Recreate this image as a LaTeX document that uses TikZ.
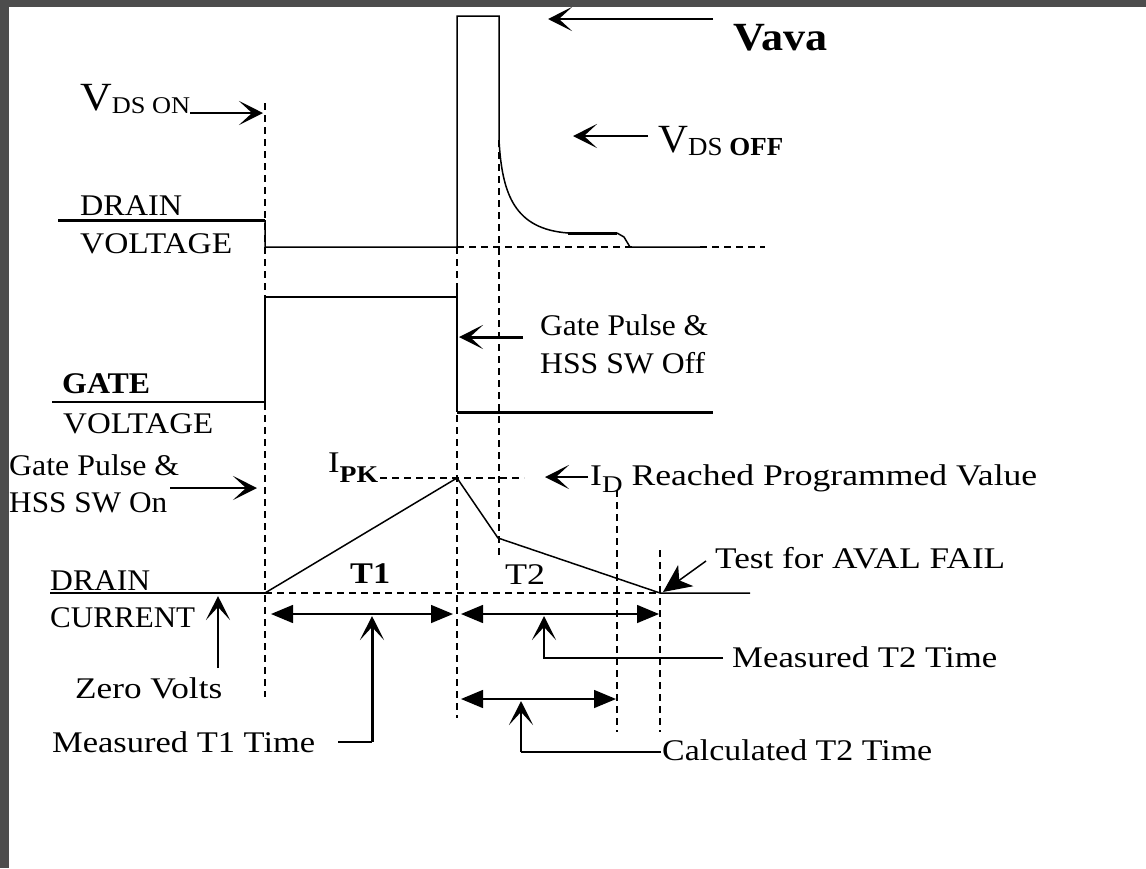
\documentclass[tikz,border=0pt]{standalone}
\usepackage{fontspec}
\setmainfont{Liberation Serif}
\usepackage{graphicx}
\usetikzlibrary{arrows.meta}
\definecolor{framegray}{HTML}{4D4D4D}
\newcommand{\fw}[2]{\resizebox{#1pt}{\height}{#2}}
\tikzset{
  lbl/.style={inner sep=0pt, anchor=base west, font=\fontsize{30}{30}\selectfont},
  wave/.style={line width=1.5pt},
  thickwave/.style={line width=3pt},
  dsh/.style={line width=1.4pt, dash pattern=on 7pt off 5pt},
  barbtip/.tip={Stealth[length=24pt,width=24pt,inset=13pt,line width=2.5pt]},
  barb/.style={line width=1.5pt, -barbtip},
  dimtip/.tip={Triangle[length=22pt,width=18pt]},
  dim/.style={line width=1.5pt, dimtip-dimtip},
}
\begin{document}
\begin{tikzpicture}[x=1pt,y=-1pt]
\useasboundingbox (0,0) rectangle (1146,868);
\fill[framegray] (0,0) rectangle (1146,868);
\fill[white] (9,7) rectangle (1146,868);

% ---- dashed guide lines
\draw[dsh] (265,103) -- (265,697);
\draw[dsh] (457,247) -- (457,718);
\draw[dsh] (499,140) -- (499,557);
\draw[dsh] (617,490) -- (617,732);
\draw[dsh] (660,550) -- (660,732);
\draw[dsh] (457,247) -- (632,247);
\draw[dsh] (700,247) -- (765,247);
\draw[dsh] (265,593) -- (660,593);
\draw[dsh] (380,478) -- (524,478);

% ---- drain voltage
\draw[thickwave] (58,220) -- (265,220);
\draw[wave] (265,220) -- (265,247) -- (457,247) -- (457,16) -- (499,16) -- (499,140)
   .. controls (502,195) and (515,229) .. (568,233);
\draw[thickwave] (568,233) -- (617,233);
\draw[wave] (617,233) -- (624,237) -- (630,247) -- (700,247);

% ---- gate voltage
\draw[wave] (52,402) -- (265,402) -- (265,297) -- (457,297);
\draw[wave] (457,290) -- (457,412);
\draw[thickwave] (457,412) -- (713,412);

% ---- drain current
\draw[wave] (50,593) -- (265,593);
\draw[wave] (265,593) -- (457,478) -- (498,538) -- (660,593) -- (750,593);

% ---- labels
\node[lbl] (vdson) at (80,110) {\fw{110}{{\fontsize{40}{40}\selectfont V}\raisebox{-3pt}{\fontsize{24}{24}\selectfont DS ON}}};
\node[lbl] (vava) at (733,50) {\fw{94}{\fontsize{40}{40}\selectfont\bfseries Vava}};
\node[lbl] (vdsoff) at (658,152) {\fw{125}{{\fontsize{40}{40}\selectfont V}\raisebox{-3pt}{\fontsize{26}{26}\selectfont DS \textbf{OFF}}}};
\node[lbl] (drainv) at (80,215) {\fw{102}{DRAIN}};
\node[lbl] (voltv) at (80,253) {\fw{152}{VOLTAGE}};
\node[lbl] (gate) at (62,393) {\fw{88}{\bfseries GATE}};
\node[lbl] (voltg) at (63,433) {\fw{150}{VOLTAGE}};
\node[lbl] (gpon1) at (9,475) {\fw{170}{Gate Pulse \&}};
\node[lbl] (gpon2) at (9,512) {\fw{158}{HSS SW On}};
\node[lbl] (gpoff1) at (540,335) {\fw{168}{Gate Pulse \&}};
\node[lbl] (gpoff2) at (540,373) {\fw{165}{HSS SW Off}};
\node[lbl] (ipk) at (328,472) {\fw{50}{I\raisebox{-10pt}{\fontsize{24}{24}\selectfont\bfseries PK}}};
\node[lbl] (idval) at (590,485) {\fw{447}{I\raisebox{-7pt}{\fontsize{24}{24}\selectfont D} Reached Programmed Value}};
\node[lbl] (tone) at (350,583) {\fw{40}{\bfseries T1}};
\node[lbl] (ttwo) at (505,584) {\fw{40}{T2}};
\node[lbl] (test) at (715,568) {\fw{290}{Test for AVAL FAIL}};
\node[lbl] (drainc) at (50,590) {\fw{100}{DRAIN}};
\node[lbl] (current) at (50,627) {\fw{145}{CURRENT}};
\node[lbl] (zero) at (75,698) {\fw{147}{Zero Volts}};
\node[lbl] (mt1) at (52,752) {\fw{263}{Measured T1 Time}};
\node[lbl] (mt2) at (732,667) {\fw{265}{Measured T2 Time}};
\node[lbl] (ct2) at (662,760) {\fw{270}{Calculated T2 Time}};

% ---- arrow end coordinates
\coordinate (vdsonS) at (190,113);  \coordinate (vdsonE) at (263,113);
\coordinate (vavaS) at (713,19);    \coordinate (vavaE) at (548,19);
\coordinate (vdsoffS) at (648,136); \coordinate (vdsoffE) at (573,136);
\coordinate (gpoffS) at (523,337);  \coordinate (gpoffE) at (459,337);
\coordinate (gponS) at (170,488);   \coordinate (gponE) at (257,488);
\coordinate (idS) at (588,477);     \coordinate (idE) at (545,477);
\coordinate (testS) at (706,561);   \coordinate (testE) at (663,592);
\coordinate (zeroS) at (218,668);   \coordinate (zeroE) at (218,596);

\draw[barb] (vdsonS) -- (vdsonE);
\draw[barb] (vavaS) -- (vavaE);
\draw[barb] (vdsoffS) -- (vdsoffE);
\draw[barb, line width=3pt] (gpoffS) -- (gpoffE);
\draw[barb] (gponS) -- (gponE);
\draw[barb] (idS) -- (idE);
\draw[line width=1.5pt, -{Stealth[length=28pt,width=26pt,inset=8pt,line width=1.5pt]}] (testS) -- (testE);
\draw[barb] (zeroS) -- (zeroE);

% ---- dimension arrows
\coordinate (t1L) at (271,614); \coordinate (t1R) at (453,614);
\coordinate (t2L) at (461,614); \coordinate (t2R) at (659,614);
\coordinate (c2L) at (461,699); \coordinate (c2R) at (616,699);
\draw[dim] (t1L) -- (t1R);
\draw[dim] (t2L) -- (t2R);
\draw[dim] (c2L) -- (c2R);

\coordinate (mt1a) at (338,742); \coordinate (mt1b) at (372,742); \coordinate (mt1c) at (372,616);
\coordinate (mt2a) at (723,658); \coordinate (mt2b) at (544,658); \coordinate (mt2c) at (544,616);
\coordinate (ct2a) at (661,752); \coordinate (ct2b) at (521,752); \coordinate (ct2c) at (521,701);
\draw[line width=1.5pt] (mt1a) -- (mt1b);
\draw[barb, line width=3pt] (mt1b) -- (mt1c);
\draw[barb] (mt2a) -- (mt2b) -- (mt2c);
\draw[line width=1.5pt] (ct2a) -- (ct2b);
\draw[barb, line width=2.5pt] (ct2b) -- (ct2c);
\end{tikzpicture}
\end{document}
